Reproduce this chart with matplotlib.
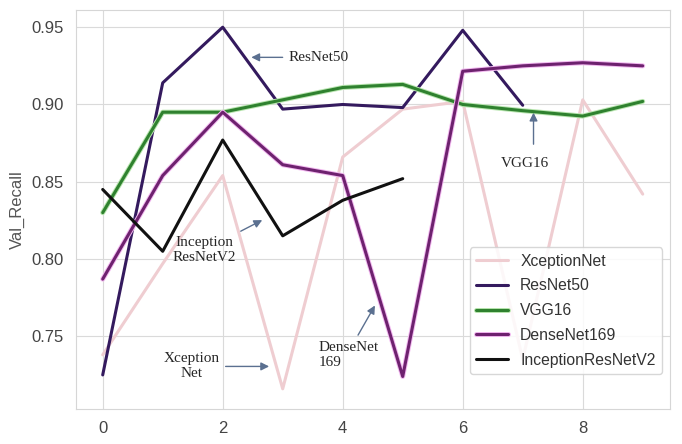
import matplotlib
matplotlib.use("Agg")
import matplotlib.pyplot as plt
import matplotlib.patheffects as pe
import seaborn as sns

# Val_Recall per epoch for each backbone
epochs_10 = [0, 1, 2, 3, 4, 5, 6, 7, 8, 9]
epochs_8 = [0, 1, 2, 3, 4, 5, 6, 7]
epochs_6 = [0, 1, 2, 3, 4, 5]

xception = [0.738, 0.797, 0.854, 0.716, 0.866, 0.897, 0.902, 0.735, 0.903, 0.842]
resnet50 = [0.725, 0.914, 0.950, 0.897, 0.900, 0.898, 0.948, 0.8995]
vgg16 = [0.830, 0.895, 0.895, 0.903, 0.911, 0.913, 0.900, 0.896, 0.8925, 0.902]
densenet169 = [0.787, 0.854, 0.895, 0.861, 0.854, 0.724, 0.9215, 0.925, 0.927, 0.925]
inception_rv2 = [0.845, 0.805, 0.877, 0.815, 0.838, 0.852]

sns.set_style("whitegrid", {"grid.color": "#dadada", "axes.edgecolor": "#d6d6d6"})
plt.rcParams["font.family"] = ["Liberation Sans", "DejaVu Sans"]

fig = plt.figure(figsize=(6.82, 4.44), dpi=100)
ax = fig.add_axes([0.111, 0.079, 0.871, 0.898])

lw = 2.2
ax.plot(epochs_10, xception, color="#efcdd1", lw=lw, label="XceptionNet")
ax.plot(epochs_8, resnet50, color="#341a5e", lw=lw, label="ResNet50")
ax.plot(epochs_10, vgg16, color="#2f812f", lw=lw, label="VGG16",
        path_effects=[pe.Stroke(linewidth=3.6, foreground="#b9e6b0"), pe.Normal()])
ax.plot(epochs_10, densenet169, color="#6e226f", lw=lw, label="DenseNet169",
        path_effects=[pe.Stroke(linewidth=3.6, foreground="#f2b8f0"), pe.Normal()])
ax.plot(epochs_6, inception_rv2, color="#111111", lw=lw, label="InceptionResNetV2")

ax.set_xlim(-0.45, 9.45)
ax.set_ylim(0.703, 0.961)
ax.set_xticks([0, 2, 4, 6, 8])
ax.set_yticks([0.75, 0.80, 0.85, 0.90, 0.95])
ax.tick_params(axis="both", labelsize=12, colors="#444444", pad=5)
ax.set_ylabel("Val_Recall", fontsize=12, color="#555555", labelpad=5)

# arrows pointing at each curve
arrow_kw = dict(arrowstyle="-|>", color="#5b7090", lw=1.0, mutation_scale=12)
serif = ["Liberation Serif", "DejaVu Serif"]
ax.annotate("ResNet50", xy=(2.43, 0.9305), xytext=(3.1, 0.9305),
            fontsize=11, family=serif, va="center", ha="left",
            arrowprops=arrow_kw)
ax.annotate("", xy=(7.18, 0.8965), xytext=(7.18, 0.8725), arrowprops=arrow_kw)
ax.text(7.03, 0.866, "VGG16", fontsize=11, family=serif, va="top", ha="center")
ax.annotate("Inception\nResNetV2", xy=(2.70, 0.826), xytext=(1.70, 0.806),
            fontsize=11, family=serif, va="center", ha="center",
            linespacing=1.2, arrowprops=arrow_kw)
ax.annotate("Xception\nNet", xy=(2.82, 0.7305), xytext=(1.48, 0.7305),
            fontsize=11, family=serif, va="center", ha="center",
            linespacing=1.2, arrowprops=arrow_kw)
ax.annotate("DenseNet\n169", xy=(4.56, 0.7715), xytext=(3.6, 0.7380),
            fontsize=11, family=serif, va="center", ha="left",
            linespacing=1.2, arrowprops=dict(arrow_kw, relpos=(0.6, 1.0)))

ax.legend(loc="lower right", bbox_to_anchor=(1.0, 0.068), fontsize=11.3,
          frameon=True, framealpha=0.85, edgecolor="#d0d0d0",
          labelcolor="#333333", handlelength=2.0, labelspacing=0.62)

plt.savefig("out.png", dpi=100)
